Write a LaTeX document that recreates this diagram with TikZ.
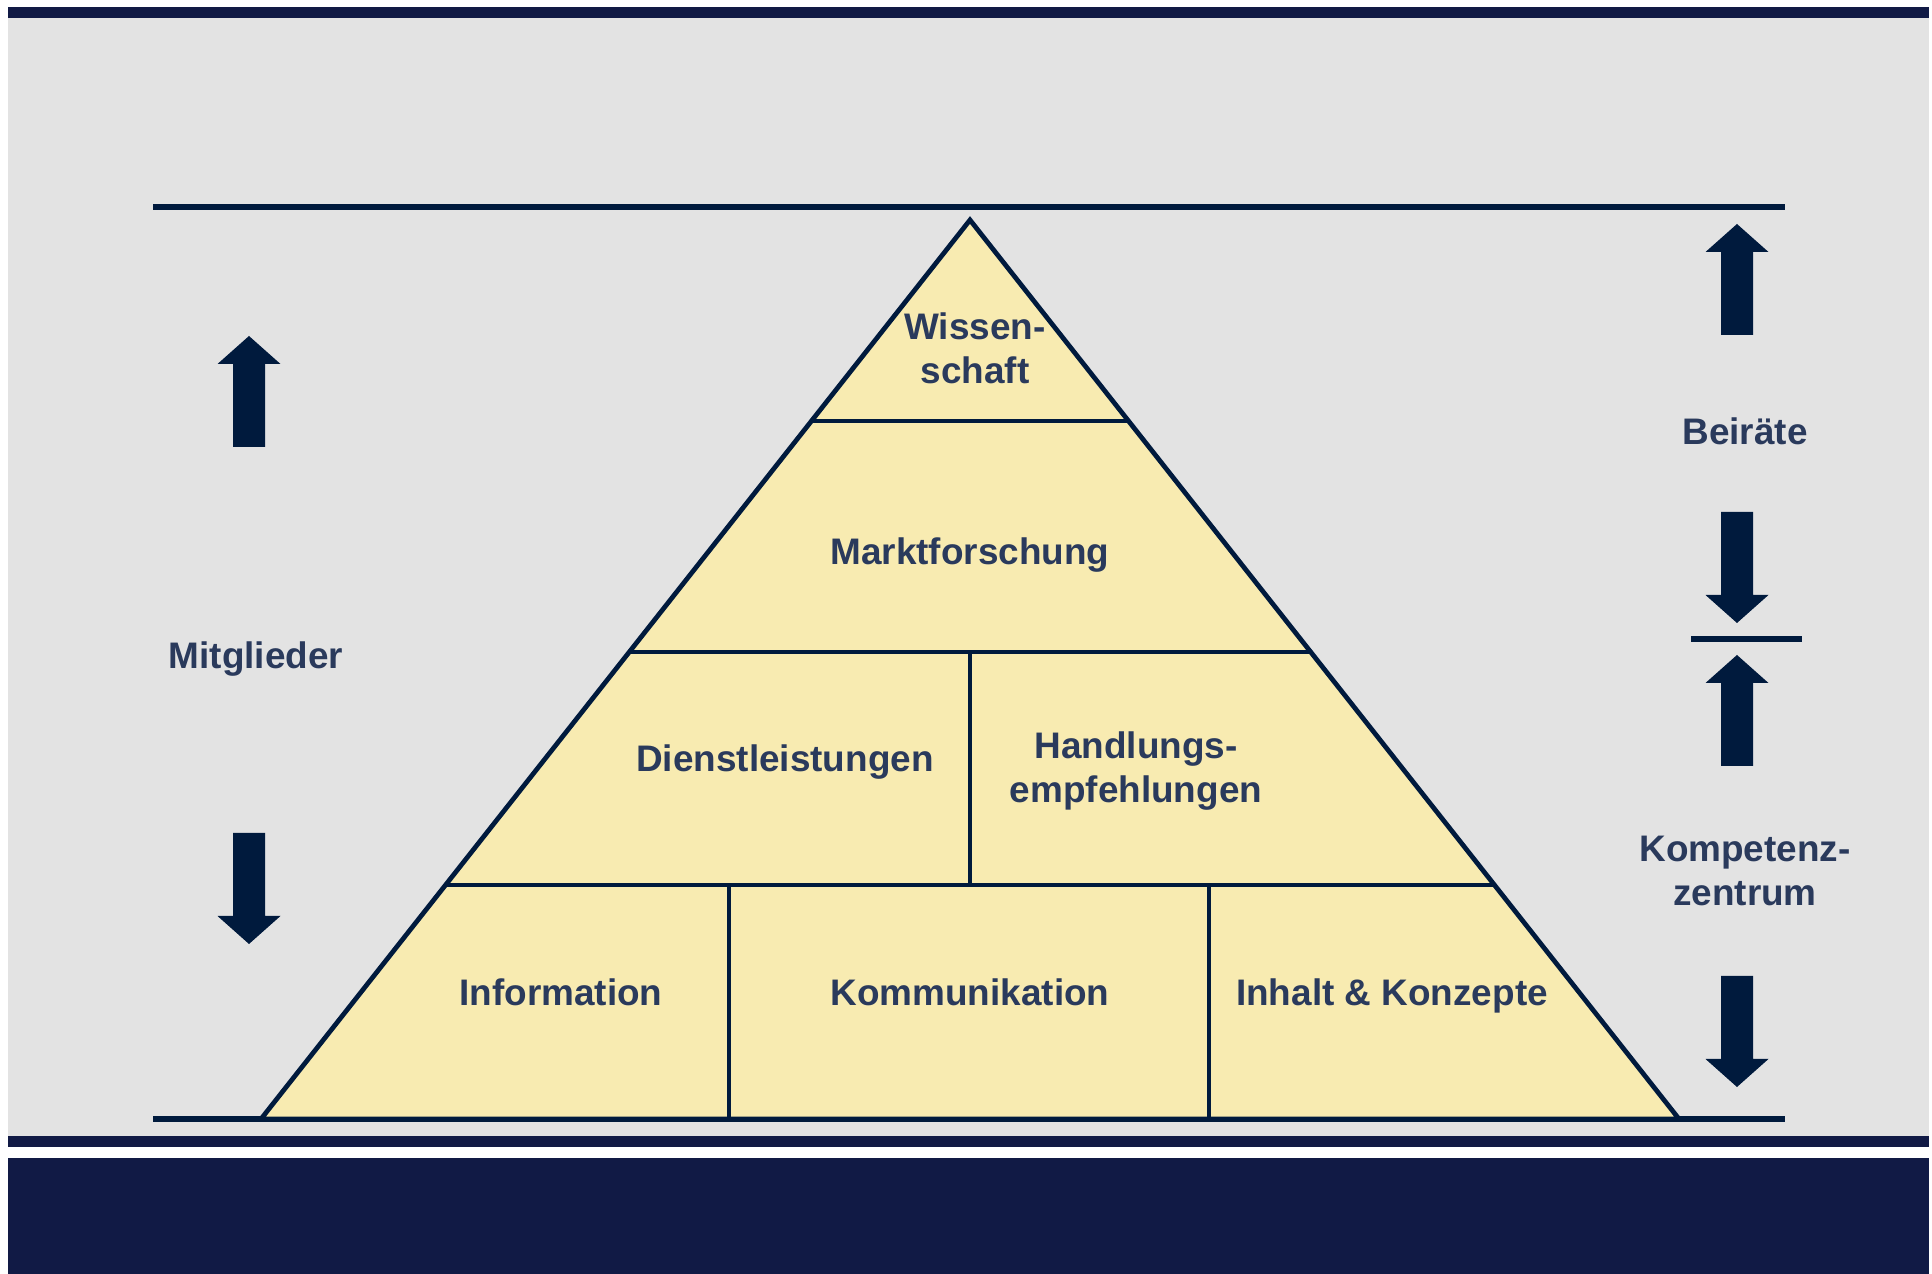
\documentclass[tikz,border=0pt]{standalone}
\usepackage{fontspec}
\setmainfont{Liberation Sans}
\usetikzlibrary{calc}
\definecolor{navy}{HTML}{001A3D}
\definecolor{band}{HTML}{111A45}
\definecolor{slate}{HTML}{2A3A5C}
\definecolor{paper}{HTML}{E3E3E3}
\definecolor{sand}{HTML}{F8EBB1}

\begin{document}
\begin{tikzpicture}[x=0.01cm,y=-0.01cm,
		label/.style={font=\fontsize{10.5}{12.5}\selectfont\bfseries,text=slate,align=center,inner sep=0pt},
		bar/.style={draw=navy,line width=1.5pt},
		brick/.style={draw=navy,line width=1.35pt,line join=miter}]
			\useasboundingbox (0,0) rectangle (1932,1274);
			\fill[paper] (8,7) rectangle (1929,1136);
			\fill[band] (8,7) rectangle (1929,18);
			\fill[band] (8,1136) rectangle (1929,1147);
			\fill[band] (8,1158) rectangle (1929,1274);

			\coordinate (apex) at (970,220);
			\coordinate (bl) at (261,1119);
			\coordinate (br) at (1679,1119);
			\foreach \t/\n in {0.2236/a,0.4805/b,0.7397/c} {
				\coordinate (l\n) at ($(apex)!\t!(bl)$);
				\coordinate (r\n) at ($(apex)!\t!(br)$);
			};

			\draw[bar] (153,207) -- (1785,207);
			\draw[bar] (153,1119) -- (1785,1119);
			\draw[bar] (1691,639) -- (1802,639);

			\filldraw[brick,fill=sand] (apex) -- (bl) -- (br) -- cycle;
			\draw[brick] (la) -- (ra);
			\draw[brick] (lb) -- (rb);
			\draw[brick] (lc) -- (rc);
			\draw[brick] (lb -| apex) -- (lc -| apex);
			\draw[brick] (729,885) -- (729,1119);
			\draw[brick] (1209,885) -- (1209,1119);

			\node[label] (wissen) at (975,348) {Wissen-\\schaft};
			\node[label] (markt) at (970,555) {Marktforschung};
			\node[label] (dienst) at (785,762) {Dienstleistungen};
			\node[label] (handl) at (1136,771) {Handlungs-\\empfehlungen};
			\node[label] (info) at (561,992) {Information};
			\node[label] (komm) at (970,992) {Kommunikation};
			\node[label] (inhalt) at (1392,996) {Inhalt \& Konzepte};
			\node[label] (mitgl) at (256,659) {Mitglieder};
			\node[label] (beir) at (1745,431) {Beiräte};
			\node[label] (kompz) at (1745,871) {Kompetenz-\\zentrum};

			\foreach \x/\y/\s in {249/336/1,249/944/-1,1737/224/1,1737/623/-1,1737/655/1,1737/1087/-1} {
				\begin{scope}[shift={(\x,\y)},yscale=\s]
					\fill[navy] (0,0) -- (31.5,28) -- (16,28) -- (16,111) -- (-16,111) -- (-16,28) -- (-31.5,28) -- cycle;
				\end{scope}
			};
		\end{tikzpicture}
\end{document}
